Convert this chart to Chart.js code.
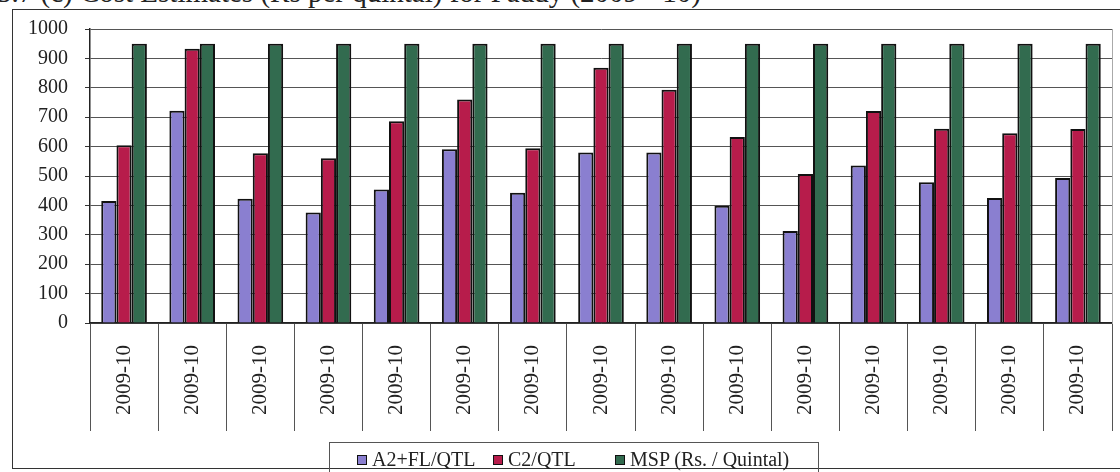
<!DOCTYPE html>
<html>
<head>
<meta charset="utf-8">
<script src="https://cdn.jsdelivr.net/npm/chart.js@4"></script>
<style>
  html, body { margin: 0; padding: 0; background: #fff; overflow: hidden; }
  #wrap { position: relative; width: 1120px; height: 472px; overflow: hidden; font-family: "Liberation Serif", serif; color: #222; }
  #frame { position: absolute; left: 12px; top: 9px; width: 1120px; height: 460px; border: 1.5px solid #333; box-sizing: border-box; }
  #title { position: absolute; left: -3px; top: -22px; font-size: 29px; line-height: 29px; white-space: nowrap; }
  #chart { position: absolute; left: 0; top: 0; }
  #legend { position: absolute; left: 329px; top: 442px; width: 490px; height: 40px; border: 1px solid #555; box-sizing: border-box; font-size: 20px; }
  #legend span.item { position: absolute; top: 5px; white-space: nowrap; }
  #legend i { display: inline-block; width: 8px; height: 8px; border: 1px solid #111; margin-right: 5px; vertical-align: 1px; }
</style>
</head>
<body>
<div id="wrap">
  <div id="frame"></div>
  <div id="title">5.7 (c) Cost Estimates (Rs per quintal) for Paddy (2009 - 10)</div>
  <canvas id="chart" width="1120" height="472"></canvas>
  <div id="legend"></div>
</div>
<script>
// ---------- data ----------
const years   = ['2009-10','2009-10','2009-10','2009-10','2009-10','2009-10','2009-10','2009-10',
                 '2009-10','2009-10','2009-10','2009-10','2009-10','2009-10','2009-10'];
const a2fl    = [415, 722, 423, 376, 454, 591, 443, 580, 580, 399, 313, 536, 479, 425, 493];
const c2      = [605, 933, 577, 560, 686, 760, 594, 868, 793, 633, 507, 721, 661, 645, 660];
const msp     = [950, 950, 950, 950, 950, 950, 950, 950, 950, 950, 950, 950, 950, 950, 950];
const yTicks  = [0, 100, 200, 300, 400, 500, 600, 700, 800, 900, 1000];
const series  = ['A2+FL/QTL', 'C2/QTL', 'MSP (Rs. / Quintal)'];
const colours = ['#8a7fd0', '#b71c4b', '#326b4f'];

const serif = '"Liberation Serif", "Times New Roman", serif';

new Chart(document.getElementById('chart'), {
  type: 'bar',
  data: {
    labels: years,
    datasets: [a2fl, c2, msp].map((d, i) => ({
      label: series[i], data: d,
      backgroundColor: colours[i], borderColor: '#111', borderWidth: 2,
      categoryPercentage: 0.67, barPercentage: 1
    }))
  },
  options: {
    responsive: false,
    animation: false,
    layout: { padding: { left: 0, top: 25, right: 8, bottom: 41 } },
    plugins: { legend: { display: false }, tooltip: { enabled: false } },
    scales: {
      x: {
        grid: { offset: true, drawOnChartArea: false, tickLength: 108, tickColor: '#555', lineWidth: 1 },
        border: { color: '#222', width: 1.5 },
        ticks: { autoSkip: false, minRotation: 90, maxRotation: 90, padding: -86,
                 color: '#222', font: { family: serif, size: 21 } },
        afterFit: s => { s.height = 108; }
      },
      y: {
        min: 0, max: 1000,
        afterBuildTicks: s => { s.ticks = yTicks.map(v => ({ value: v })); },
        grid: { color: '#555', lineWidth: 1, tickLength: 5, tickColor: '#333' },
        border: { color: '#222', width: 1.5 },
        ticks: { padding: 17, color: '#222', font: { family: serif, size: 20 },
                 callback: v => String(v) },
        afterFit: s => { s.width = 90; }
      },
      y2: {
        position: 'right', min: 0, max: 1000,
        grid: { drawOnChartArea: false, drawTicks: false },
        border: { color: '#aaa', width: 1 },
        ticks: { display: false },
        afterFit: s => { s.width = 0; }
      }
    }
  }
});

// ---------- legend ----------
const lg = document.getElementById('legend');
[27, 163, 285].forEach((x, i) => {
  lg.insertAdjacentHTML('beforeend',
    `<span class="item" style="left:${x}px"><i style="background:${colours[i]}"></i>${series[i]}</span>`);
});
</script>
</body>
</html>
